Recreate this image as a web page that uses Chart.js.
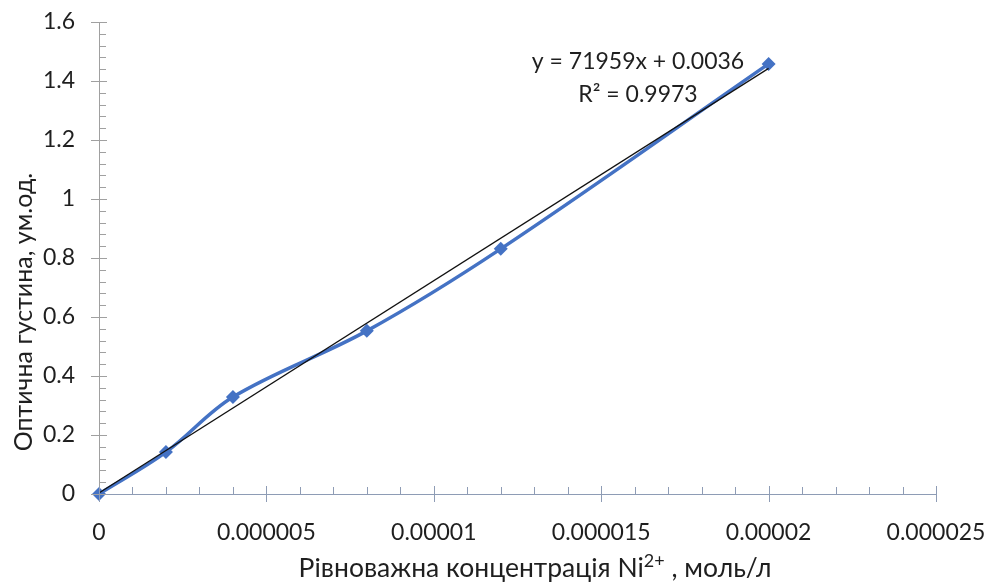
<!DOCTYPE html>
<html>
<head>
<meta charset="utf-8">
<script src="https://cdn.jsdelivr.net/npm/chart.js@4.4.1/dist/chart.umd.min.js"></script>
<style>
  html, body { margin: 0; padding: 0; background: #fff; }
  #wrap { width: 990px; height: 582px; }
</style>
</head>
<body>
<div id="wrap"><canvas id="chart" width="990" height="582"></canvas></div>
<script>
// concentration of Ni2+ (mol/l) and optical density
const concentration = [0, 0.000002, 0.000004, 0.000008, 0.000012, 0.00002];
const density = [0, 0.142, 0.329, 0.553, 0.831, 1.458];

// linear trendline from the chart's label
const trendSlope = 71959;
const trendIntercept = 0.0036;
const trendX = [0, 0.00002];

const xTicks = [0, 0.000005, 0.00001, 0.000015, 0.00002, 0.000025];
const yTicks = [0, 0.2, 0.4, 0.6, 0.8, 1, 1.2, 1.4, 1.6];

const FONT = 'Lato, "Open Sans", sans-serif';
const TEXT = '#1f1f1f';
const BLUE = '#4472C4';

const fmtX = v => v === 0 ? '0' : v.toFixed(6).replace(/\.?0+$/, '');

// ticks crossing the axes + minor ticks inside, like the excel original
const axisTicks = {
    id: 'axisTicks',
    afterDraw(chart) {
        const { ctx, scales: { x, y } } = chart;
        const x0 = x.getPixelForValue(0);
        const y0 = y.getPixelForValue(0);
        ctx.save();
        ctx.lineWidth = 1;

        ctx.strokeStyle = '#a0a0a0';
        for (let i = 0; i <= 40; i++) {
            const py = Math.round(y.getPixelForValue(i * 0.04)) + 0.5;
            ctx.beginPath();
            if (i % 5 === 0) { ctx.moveTo(x0 - 8, py); ctx.lineTo(x0 + 8, py); }
            else { ctx.moveTo(x0, py); ctx.lineTo(x0 + 7, py); }
            ctx.stroke();
        }

        ctx.strokeStyle = '#8e9cb5';
        for (let i = 0; i <= 25; i++) {
            const px = Math.round(x.getPixelForValue(i * 0.000001)) + 0.5;
            ctx.beginPath();
            if (i % 5 === 0) { ctx.moveTo(px, y0 - 8); ctx.lineTo(px, y0 + 8); }
            else { ctx.moveTo(px, y0 - 7); ctx.lineTo(px, y0); }
            ctx.stroke();
        }
        ctx.restore();
    }
};

// axis titles and trendline label
const labels = {
    id: 'labels',
    afterDraw(chart) {
        const { ctx, scales: { x, y } } = chart;
        ctx.save();
        ctx.fillStyle = TEXT;

        // y axis title
        ctx.save();
        ctx.translate(24, 312);
        ctx.rotate(-Math.PI / 2);
        ctx.font = '25px ' + FONT;
        ctx.textAlign = 'center';
        ctx.textBaseline = 'middle';
        ctx.fillText('Оптична густина, ум.од.', 0, 0);
        ctx.restore();

        // x axis title with superscript
        const parts = [['Рівноважна концентрація Ni', 26.5, 0], ['2+', 18, -10], [' , моль/л', 26.5, 0]];
        let w = 0;
        parts.forEach(p => { ctx.font = p[1] + 'px ' + FONT; w += ctx.measureText(p[0]).width; });
        let px = 535 - w / 2;
        ctx.textBaseline = 'alphabetic';
        ctx.textAlign = 'left';
        parts.forEach(p => {
            ctx.font = p[1] + 'px ' + FONT;
            ctx.fillText(p[0], px, 577 + p[2]);
            px += ctx.measureText(p[0]).width;
        });

        // trendline equation
        const ex = x.getPixelForValue(0.0000161);
        ctx.font = '23px ' + FONT;
        ctx.textAlign = 'center';
        ctx.fillText('y = ' + trendSlope + 'x + ' + trendIntercept, ex, y.getPixelForValue(1.442));
        ctx.fillText('R² = 0.9973', ex, y.getPixelForValue(1.33));
        ctx.restore();
    }
};

new Chart(document.getElementById('chart'), {
    type: 'line',
    data: {
        datasets: [
            {
                label: 'trend',
                data: trendX.map(v => ({ x: v, y: trendSlope * v + trendIntercept })),
                borderColor: '#111',
                borderWidth: 1.2,
                pointRadius: 0,
                tension: 0
            },
            {
                label: 'density',
                data: concentration.map((c, i) => ({ x: c, y: density[i] })),
                borderColor: BLUE,
                backgroundColor: BLUE,
                borderWidth: 3.5,
                tension: 0.35,
                pointStyle: 'rectRot',
                pointRadius: 7,
                pointBorderWidth: 0,
                clip: false
            }
        ]
    },
    options: {
        responsive: false,
        animation: false,
        layout: { padding: { top: 22, right: 54, left: 0, bottom: 0 } },
        plugins: { legend: { display: false }, tooltip: { enabled: false } },
        scales: {
            x: {
                type: 'linear',
                min: 0,
                max: 0.000025,
                afterFit: s => { s.height = 88; s.paddingLeft = 0; s.paddingRight = 0; },
                afterBuildTicks: s => { s.ticks = xTicks.map(v => ({ value: v })); },
                ticks: {
                    callback: v => fmtX(v),
                    font: { family: FONT, size: 23 },
                    color: TEXT,
                    padding: 25,
                    maxRotation: 0
                },
                grid: { drawOnChartArea: false, drawTicks: false },
                border: { color: '#8e9cb5', width: 1 }
            },
            y: {
                min: 0,
                max: 1.6,
                afterFit: s => { s.width = 99; s.paddingTop = 0; s.paddingBottom = 0; },
                afterBuildTicks: s => { s.ticks = yTicks.map(v => ({ value: v })); },
                ticks: {
                    callback: v => String(+v.toFixed(1)),
                    font: { family: FONT, size: 23 },
                    color: TEXT,
                    padding: 24
                },
                grid: { drawOnChartArea: false, drawTicks: false },
                border: { color: '#a0a0a0', width: 1 }
            }
        }
    },
    plugins: [axisTicks, labels]
});
</script>
</body>
</html>
